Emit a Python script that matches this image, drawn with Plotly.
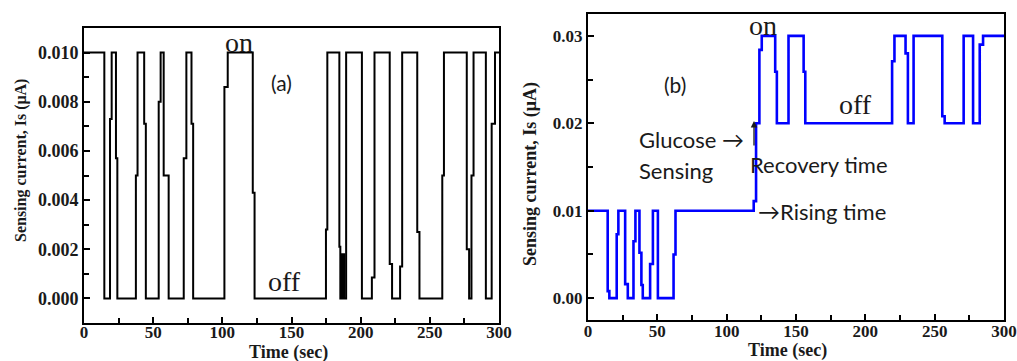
import plotly.graph_objects as go

# ---------------- data (step transitions: time at which the level changes, new level) ----
time_a = [0, 14.7, 18.8, 20.0, 23.1, 24.1, 37.5, 38.7, 43.5, 44.7, 54.0, 55.4, 57.6, 61.2,
          72.1, 74.0, 77.7, 78.9, 101.5, 103.9, 122.0, 123.3, 174.9, 175.9, 184.6, 185.3,
          186.0, 186.6, 187.3, 188.0, 189.5, 200.9, 208.1, 210.0, 221.0, 222.7, 228.5, 230.0,
          240.9, 242.5, 259.0, 260.2, 276.7, 278.4, 280.1, 281.6, 290.5, 294.7, 297.1, 300]
current_a = [0.010, 0.0, 0.0073, 0.010, 0.0057, 0.0, 0.0050, 0.010, 0.0071, 0.0, 0.0080, 0.010,
             0.0050, 0.0, 0.0057, 0.010, 0.0071, 0.0, 0.0086, 0.010, 0.0043, 0.0, 0.0028, 0.010,
             0.0021, 0.0, 0.0018, 0.0, 0.0018, 0.0, 0.010, 0.0, 0.00085, 0.010, 0.0014, 0.0,
             0.0013, 0.010, 0.0027, 0.0, 0.0050, 0.010, 0.0020, 0.0, 0.0050, 0.010, 0.0, 0.0071,
             0.010, 0.010]

time_b = [0, 14.2, 15.4, 20.7, 21.9, 26.8, 28.7, 32.8, 34.2, 37.1, 38.5, 39.5, 44.8, 46.8,
          50.4, 61.7, 63.1, 119.5, 121.2, 123.6, 125.3, 135.0, 136.2, 144.6, 155.5, 156.7,
          219.3, 221.0, 229.0, 230.7, 234.8, 255.5, 257.2, 270.9, 277.7, 282.5, 284.9, 300]
current_b = [0.010, 0.0008, 0.0, 0.0073, 0.010, 0.0016, 0.0, 0.0065, 0.010, 0.0052, 0.0015, 0.0,
             0.0039, 0.010, 0.0, 0.0050, 0.010, 0.0111, 0.0200, 0.0284, 0.030, 0.0259, 0.020,
             0.030, 0.0259, 0.020, 0.0271, 0.030, 0.028, 0.020, 0.030, 0.0208, 0.020, 0.030,
             0.020, 0.029, 0.030, 0.030]

x_ticks = [0, 50, 100, 150, 200, 250, 300]
y_ticks_a = [0.000, 0.002, 0.004, 0.006, 0.008, 0.010]
y_ticks_b = [0.00, 0.01, 0.02, 0.03]

y_title = "Sensing current, Is (μA)"
x_title = "Time (sec)"

# ---------------- figure ----------------
W, H = 1017, 361
fig = go.Figure()
fig.add_trace(go.Scatter(x=time_a, y=current_a, mode="lines", line_shape="hv",
                         line=dict(color="black", width=2), xaxis="x", yaxis="y",
                         showlegend=False))
fig.add_trace(go.Scatter(x=time_b, y=current_b, mode="lines", line_shape="hv",
                         line=dict(color="#0000ff", width=2.6), xaxis="x2", yaxis="y2",
                         showlegend=False))

serif = "Liberation Serif"
sans = "Lato"
ink = "#1a1a1a"


def px_x(p):
    return p / W


def px_y(p):
    return 1 - p / H


common_axis = dict(showgrid=False, zeroline=False, showline=True, linecolor="black",
                   linewidth=2, mirror=True, ticks="inside", tickcolor="black",
                   tickwidth=2, ticklen=6, automargin=False,
                   tickfont=dict(family=serif, size=18, color=ink, weight="bold"))
x_tick_font = dict(family=serif, size=17, color=ink, weight="bold")

fig.update_layout(
    width=W, height=H,
    margin=dict(l=0, r=0, t=0, b=0),
    paper_bgcolor="white", plot_bgcolor="white",
    xaxis=dict(common_axis, domain=[px_x(84), px_x(499)], range=[0, 300],
               tickvals=x_ticks, anchor="y", ticklabelstandoff=-7, tickfont=x_tick_font,
               minor=dict(ticks="inside", dtick=25, ticklen=5, tickwidth=1.5, tickcolor="black")),
    yaxis=dict(common_axis, domain=[px_y(323), px_y(28)], range=[-0.001, 0.011],
               tickvals=y_ticks_a, tickformat=".3f", anchor="x",
               minor=dict(ticks="inside", dtick=0.001, ticklen=5, tickwidth=1.5, tickcolor="black")),
    xaxis2=dict(common_axis, domain=[px_x(588), px_x(1004)], range=[0, 300],
                tickvals=x_ticks, anchor="y2", ticklabelstandoff=-5, tickfont=x_tick_font,
                minor=dict(ticks="inside", dtick=25, ticklen=5, tickwidth=1.5, tickcolor="black")),
    yaxis2=dict(common_axis, domain=[px_y(320), px_y(14)], range=[-0.0025, 0.0325],
                tickvals=y_ticks_b, tickformat=".2f", anchor="x2",
                tickfont=dict(family=serif, size=17, color=ink, weight="bold"),
                minor=dict(ticks="inside", dtick=0.005, ticklen=5, tickwidth=1.5, tickcolor="black")),
)

ann = []


def text(t, cx, cy, family, size, xanchor="center", weight="normal", angle=0):
    ann.append(dict(text=t, x=px_x(cx), y=px_y(cy), xref="paper", yref="paper",
                    xanchor=xanchor, yanchor="middle", showarrow=False, textangle=angle,
                    font=dict(family=family, size=size, color=ink, weight=weight)))


# axis titles
text(y_title, 21, 161, serif, 16, weight="bold", angle=-90)
text(y_title, 530, 174, serif, 18, weight="bold", angle=-90)
text(x_title, 288, 352, serif, 18, weight="bold")
text(x_title, 787, 350, serif, 18, weight="bold")

# panel (a) labels
text("on", 239, 42, serif, 28)
text("off", 284, 281, serif, 28)
text("(a)", 281, 82, sans, 21)

# panel (b) labels
text("on", 763, 25, serif, 28)
text("off", 855, 104, serif, 28)
text("(b)", 675, 84, sans, 21)
text("Glucose →", 637, 139, sans, 22, xanchor="left")
text("Sensing", 637, 171, sans, 22, xanchor="left")
text("Recovery time", 748, 164, sans, 22, xanchor="left")
text("→Rising time", 756, 211, sans, 22, xanchor="left")

# small upward arrow next to "Glucose →"
ann.append(dict(text="", x=px_x(754), y=px_y(121), xref="paper", yref="paper",
                showarrow=True, ax=0, ay=26, arrowhead=2, arrowsize=1, arrowwidth=1.3,
                arrowcolor=ink))

fig.update_layout(annotations=ann)
fig.write_html("out.html", config={"displayModeBar": False},
               post_script="document.body.style.margin='0';")
